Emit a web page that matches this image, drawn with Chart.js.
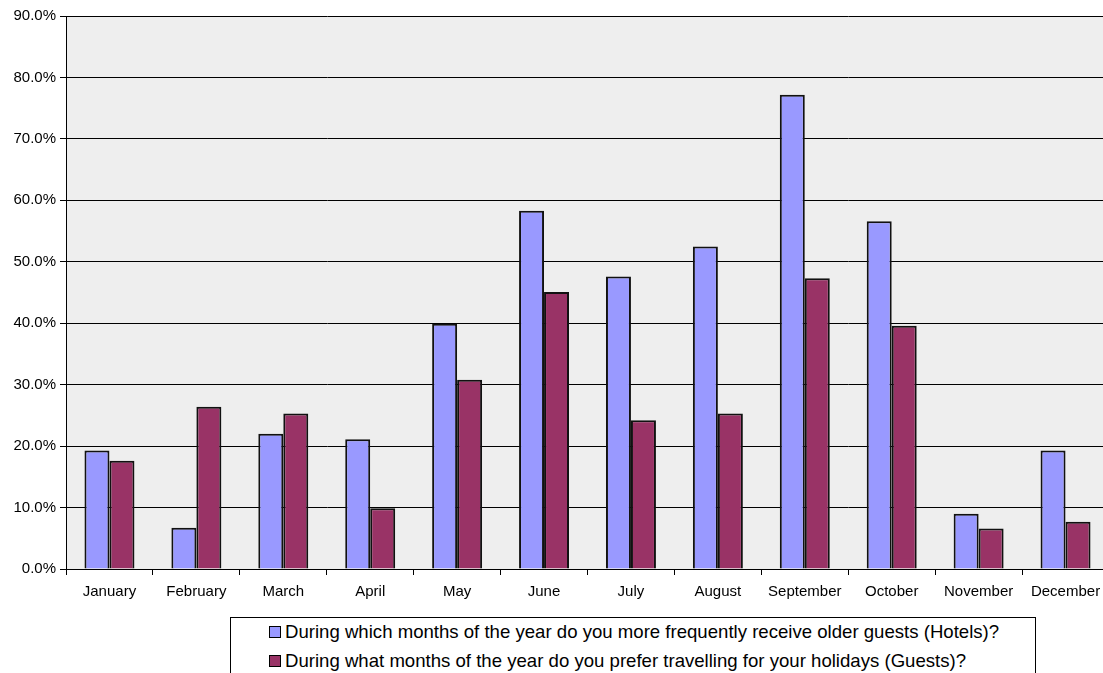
<!DOCTYPE html>
<html>
<head>
<meta charset="utf-8">
<script src="https://cdn.jsdelivr.net/npm/chart.js@4"></script>
<style>
  html, body { margin: 0; padding: 0; background: #fff; overflow: hidden; }
  #wrap { position: relative; width: 1103px; height: 673px; overflow: hidden; }
  #chartBox { position: absolute; left: 0; top: 0; width: 1109px; height: 612px; }
  #legend {
    position: absolute; left: 230px; top: 617px; width: 806px; height: 80px;
    border: 1px solid #000; box-sizing: border-box;
    font-family: "Liberation Sans", Arial, sans-serif; font-size: 18.6px; color: #000;
  }
  #legend .item { position: absolute; left: 38px; height: 20px; display: flex; align-items: center; white-space: nowrap; }
  #legend .sw { display: inline-block; width: 10px; height: 10px; border: 1px solid #000; margin-right: 4px; }
</style>
</head>
<body>
<div id="wrap">
  <div id="chartBox"><canvas id="chart"></canvas></div>
  <div id="legend"></div>
</div>
<script>
const months = ['January', 'February', 'March', 'April', 'May', 'June', 'July', 'August', 'September', 'October', 'November', 'December'];
const hotelsLabel = 'During which months of the year do you more frequently receive older guests (Hotels)?';
const guestsLabel = 'During what months of the year do you prefer travelling for your holidays (Guests)?';
const hotels = [19.3, 6.7, 22.0, 21.1, 39.9, 58.3, 47.6, 52.5, 77.2, 56.6, 9.0, 19.3];
const guests = [17.6, 26.4, 25.3, 9.9, 30.8, 45.1, 24.2, 25.3, 47.3, 39.6, 6.6, 7.7];
const blue = '#9999ff';
const plum = '#993366';

// grey plot background
const plotBg = {
    id: 'plotBg',
    beforeDraw(chart) {
        const a = chart.chartArea;
        const ctx = chart.ctx;
        ctx.save();
        ctx.fillStyle = '#eeeeee';
        ctx.fillRect(a.left, a.top, a.right - a.left, a.bottom - a.top);
        ctx.restore();
    }
};

Chart.defaults.font.family = '"Liberation Sans", Arial, sans-serif';
Chart.defaults.color = '#000';

new Chart(document.getElementById('chart'), {
    type: 'bar',
    data: {
        labels: months,
        datasets: [
            { label: hotelsLabel, data: hotels, backgroundColor: blue, borderColor: '#111', borderWidth: 2 },
            { label: guestsLabel, data: guests, backgroundColor: plum, borderColor: '#111', borderWidth: 2 }
        ]
    },
    options: {
        responsive: true,
        maintainAspectRatio: false,
        animation: false,
        datasets: { bar: { categoryPercentage: 0.575, barPercentage: 1.0 } },
        layout: { padding: { top: 16, right: 0, left: 0, bottom: 0 } },
        plugins: { legend: { display: false }, tooltip: { enabled: false } },
        scales: {
            x: {
                afterFit: s => { s.height = 43; },
                grid: { drawOnChartArea: false, color: '#000', tickLength: 6, offset: true },
                border: { color: '#000' },
                ticks: { font: { size: 15 }, maxRotation: 0, autoSkip: false, padding: 8 }
            },
            y: {
                min: 0, max: 90,
                afterFit: s => { s.width = 66; },
                grid: { color: '#000', tickLength: 6 },
                border: { color: '#000' },
                ticks: { stepSize: 10, font: { size: 15 }, padding: 4, callback: v => v.toFixed(1) + '%' }
            }
        }
    },
    plugins: [plotBg]
});

// legend box like the original
const legend = document.getElementById('legend');
[[hotelsLabel, blue, 4], [guestsLabel, plum, 33]].forEach(([text, color, top]) => {
    const row = document.createElement('div');
    row.className = 'item';
    row.style.top = top + 'px';
    row.innerHTML = '<span class="sw" style="background:' + color + '"></span><span>' + text + '</span>';
    legend.appendChild(row);
});
</script>
</body>
</html>
